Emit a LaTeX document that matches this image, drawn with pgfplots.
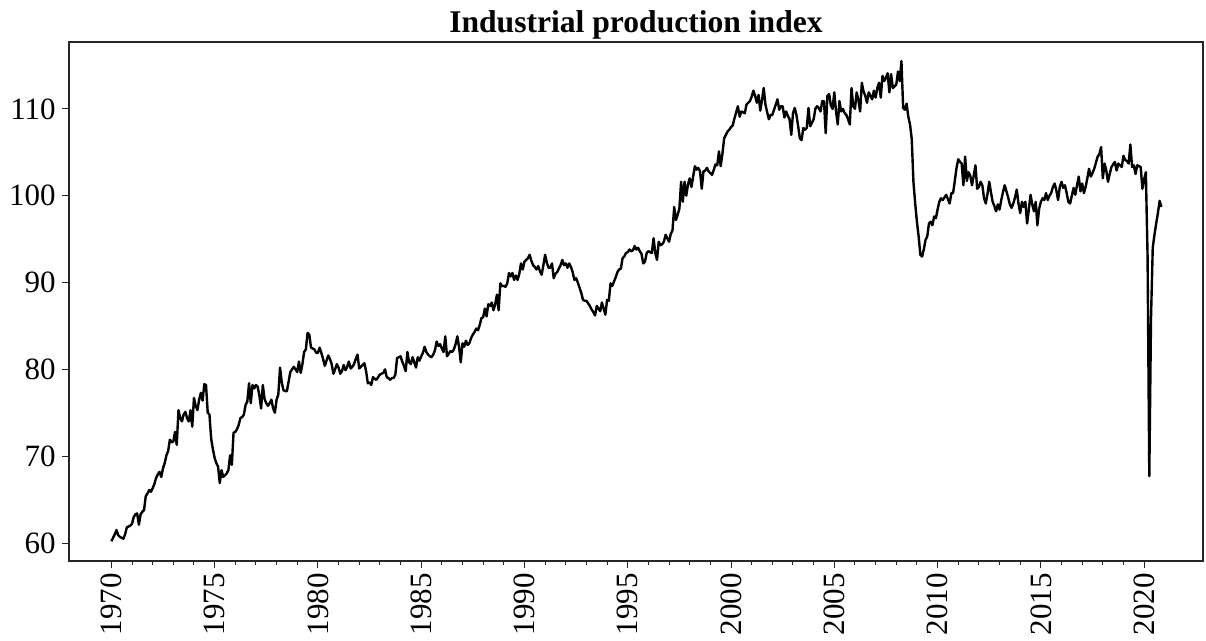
\documentclass[border=0pt]{standalone}
\usepackage{fontspec}
\setmainfont{Liberation Serif}
\usepackage{pgfplots}
\usepackage{pgfplotstable}
\pgfplotsset{compat=1.18}
\pgfplotstableread[row sep=\\]{
y\\
60.2\\ 60.6\\ 61.0\\ 61.5\\ 60.9\\ 60.7\\ 60.6\\ 60.5\\ 61.0\\ 61.8\\ 61.9\\ 62.0\\
62.2\\ 63.0\\ 63.3\\ 63.4\\ 62.1\\ 63.3\\ 63.6\\ 63.8\\ 65.4\\ 65.7\\ 66.1\\ 65.9\\
66.3\\ 66.8\\ 67.5\\ 67.9\\ 68.2\\ 67.6\\ 68.6\\ 69.2\\ 70.1\\ 70.6\\ 71.9\\ 71.6\\
71.7\\ 72.8\\ 71.3\\ 75.3\\ 74.4\\ 74.0\\ 74.8\\ 75.1\\ 74.4\\ 74.0\\ 75.3\\ 73.4\\
76.7\\ 75.8\\ 75.3\\ 76.5\\ 77.3\\ 76.4\\ 78.3\\ 78.2\\ 75.0\\ 74.8\\ 72.0\\ 70.8\\
69.8\\ 69.2\\ 68.8\\ 66.9\\ 68.4\\ 67.6\\ 67.8\\ 68.0\\ 68.4\\ 70.1\\ 69.0\\ 72.7\\
72.8\\ 73.1\\ 73.6\\ 74.4\\ 74.5\\ 74.8\\ 75.9\\ 76.3\\ 78.4\\ 76.1\\ 78.2\\ 77.8\\
78.2\\ 78.0\\ 77.0\\ 75.5\\ 78.2\\ 76.6\\ 76.1\\ 75.8\\ 76.1\\ 76.5\\ 75.5\\ 75.0\\
76.5\\ 77.1\\ 80.2\\ 78.5\\ 77.6\\ 77.5\\ 77.5\\ 78.6\\ 79.7\\ 80.0\\ 80.3\\ 80.0\\
79.7\\ 80.9\\ 79.6\\ 80.6\\ 82.0\\ 82.3\\ 84.2\\ 84.0\\ 82.5\\ 82.4\\ 82.3\\ 81.9\\
81.9\\ 82.5\\ 81.9\\ 81.2\\ 80.4\\ 81.0\\ 81.6\\ 81.2\\ 80.6\\ 79.5\\ 80.0\\ 80.6\\
80.2\\ 79.5\\ 79.8\\ 80.5\\ 79.9\\ 80.3\\ 80.9\\ 80.1\\ 80.3\\ 80.6\\ 81.2\\ 81.7\\
80.1\\ 80.3\\ 80.5\\ 80.7\\ 79.8\\ 78.4\\ 78.5\\ 78.2\\ 79.1\\ 78.9\\ 78.8\\ 79.1\\
79.4\\ 79.5\\ 79.6\\ 80.0\\ 79.1\\ 79.0\\ 78.8\\ 79.0\\ 79.0\\ 79.4\\ 81.3\\ 81.4\\
81.5\\ 80.9\\ 80.4\\ 79.8\\ 82.0\\ 80.8\\ 80.6\\ 81.4\\ 80.8\\ 80.2\\ 81.4\\ 81.0\\
81.5\\ 81.9\\ 82.6\\ 82.0\\ 81.7\\ 81.5\\ 81.4\\ 81.7\\ 82.2\\ 83.2\\ 82.7\\ 82.9\\
82.4\\ 82.0\\ 83.8\\ 81.5\\ 81.8\\ 82.1\\ 82.0\\ 82.3\\ 82.9\\ 83.8\\ 82.6\\ 80.8\\
83.0\\ 82.6\\ 83.3\\ 82.8\\ 83.0\\ 83.6\\ 84.0\\ 84.3\\ 84.7\\ 84.5\\ 85.1\\ 85.9\\
86.0\\ 87.0\\ 86.1\\ 87.5\\ 87.3\\ 87.7\\ 86.8\\ 87.5\\ 88.6\\ 86.8\\ 89.9\\ 89.6\\
89.6\\ 89.5\\ 89.9\\ 91.1\\ 90.7\\ 91.1\\ 90.3\\ 90.8\\ 90.3\\ 91.0\\ 92.2\\ 91.5\\
92.4\\ 92.6\\ 92.8\\ 93.2\\ 92.5\\ 92.0\\ 91.8\\ 91.5\\ 91.9\\ 91.3\\ 90.9\\ 92.0\\
93.2\\ 92.3\\ 91.7\\ 91.7\\ 92.2\\ 90.5\\ 91.0\\ 91.2\\ 91.6\\ 92.0\\ 92.6\\ 92.0\\
92.2\\ 91.7\\ 92.2\\ 91.8\\ 91.2\\ 90.3\\ 90.5\\ 90.0\\ 89.4\\ 88.8\\ 88.0\\ 87.9\\
87.9\\ 87.6\\ 87.3\\ 86.9\\ 86.6\\ 86.2\\ 87.3\\ 87.0\\ 86.7\\ 87.7\\ 87.0\\ 86.3\\
88.0\\ 87.9\\ 89.9\\ 89.6\\ 90.1\\ 90.6\\ 91.2\\ 91.5\\ 91.6\\ 92.8\\ 93.0\\ 93.4\\
93.5\\ 93.8\\ 93.6\\ 93.7\\ 94.2\\ 93.8\\ 94.0\\ 93.6\\ 93.3\\ 92.2\\ 92.4\\ 93.4\\
93.6\\ 93.5\\ 93.4\\ 95.1\\ 93.4\\ 92.6\\ 94.7\\ 94.3\\ 94.4\\ 94.7\\ 95.5\\ 95.1\\
94.7\\ 95.6\\ 96.0\\ 98.7\\ 97.2\\ 97.8\\ 98.5\\ 101.6\\ 99.3\\ 101.6\\ 100.0\\ 101.3\\
102.0\\ 101.0\\ 102.2\\ 103.4\\ 103.0\\ 103.2\\ 102.8\\ 100.8\\ 102.8\\ 102.9\\ 103.2\\ 102.8\\
102.6\\ 102.4\\ 103.0\\ 103.6\\ 103.5\\ 105.1\\ 103.4\\ 104.8\\ 106.6\\ 107.0\\ 107.4\\ 107.6\\
107.9\\ 108.1\\ 108.9\\ 109.6\\ 110.3\\ 109.1\\ 109.7\\ 109.6\\ 109.5\\ 110.5\\ 110.7\\ 110.9\\
111.4\\ 112.1\\ 111.5\\ 110.7\\ 111.6\\ 109.8\\ 111.0\\ 112.4\\ 110.5\\ 109.6\\ 108.8\\ 109.3\\
109.3\\ 109.9\\ 110.5\\ 111.1\\ 109.9\\ 110.3\\ 110.3\\ 109.0\\ 109.7\\ 109.2\\ 108.8\\ 107.0\\
109.5\\ 110.1\\ 109.3\\ 108.0\\ 106.6\\ 106.4\\ 107.8\\ 107.6\\ 107.8\\ 110.1\\ 108.0\\ 108.4\\
108.8\\ 110.0\\ 110.3\\ 110.1\\ 109.7\\ 110.9\\ 110.9\\ 107.2\\ 111.5\\ 111.7\\ 110.4\\ 110.0\\
111.9\\ 109.7\\ 108.2\\ 110.9\\ 109.7\\ 110.0\\ 109.5\\ 109.3\\ 108.8\\ 108.2\\ 112.4\\ 110.3\\
110.0\\ 111.9\\ 111.0\\ 109.7\\ 113.0\\ 112.0\\ 111.5\\ 110.7\\ 111.9\\ 111.5\\ 111.1\\ 112.1\\
111.3\\ 112.4\\ 113.0\\ 111.3\\ 113.8\\ 113.2\\ 113.6\\ 114.1\\ 111.9\\ 114.0\\ 112.4\\ 112.6\\
112.8\\ 114.3\\ 113.2\\ 115.5\\ 110.1\\ 109.9\\ 110.6\\ 109.1\\ 108.2\\ 106.5\\ 101.5\\ 99.1\\
97.0\\ 95.3\\ 93.2\\ 93.0\\ 93.8\\ 94.9\\ 95.3\\ 96.8\\ 97.0\\ 96.6\\ 97.6\\ 97.4\\
98.4\\ 99.3\\ 99.7\\ 99.5\\ 99.8\\ 100.1\\ 99.6\\ 99.1\\ 100.3\\ 100.3\\ 101.7\\ 103.2\\
104.2\\ 103.9\\ 103.7\\ 101.2\\ 104.5\\ 101.7\\ 102.7\\ 102.3\\ 101.2\\ 102.3\\ 103.5\\ 100.8\\
101.0\\ 101.6\\ 101.2\\ 99.7\\ 99.1\\ 100.2\\ 101.6\\ 100.4\\ 99.3\\ 98.8\\ 98.2\\ 99.0\\
98.4\\ 99.5\\ 100.4\\ 101.2\\ 100.5\\ 99.8\\ 99.0\\ 98.6\\ 99.1\\ 99.8\\ 100.7\\ 99.1\\
98.0\\ 99.3\\ 98.7\\ 99.3\\ 96.8\\ 98.4\\ 100.1\\ 99.0\\ 98.2\\ 99.3\\ 96.6\\ 98.5\\
99.3\\ 99.7\\ 99.5\\ 100.3\\ 99.5\\ 100.0\\ 100.3\\ 101.0\\ 101.4\\ 100.6\\ 99.5\\ 101.0\\
101.6\\ 100.9\\ 101.2\\ 100.3\\ 99.3\\ 99.1\\ 100.0\\ 100.9\\ 100.1\\ 101.2\\ 102.2\\ 100.5\\
101.4\\ 100.3\\ 101.0\\ 102.0\\ 103.1\\ 102.2\\ 102.6\\ 103.1\\ 103.8\\ 104.5\\ 104.8\\ 105.6\\
102.0\\ 103.7\\ 102.9\\ 101.6\\ 102.5\\ 103.3\\ 103.6\\ 103.9\\ 102.9\\ 103.7\\ 103.5\\ 103.3\\
104.6\\ 104.1\\ 104.0\\ 103.7\\ 105.9\\ 103.3\\ 103.5\\ 102.5\\ 103.5\\ 103.4\\ 103.3\\ 100.8\\
101.9\\ 102.7\\ 93.0\\ 67.7\\ 86.0\\ 94.0\\ 95.5\\ 96.8\\ 98.0\\ 99.4\\ 98.7\\
}\ipdata
\begin{document}
\begin{tikzpicture}
\begin{axis}[
  at={(0,0)}, anchor=south west,
  scale only axis, width=567pt, height=259.5pt,
  xmin=1967.95, xmax=2022.85, ymin=57.93, ymax=117.7,
  xtick={1970,1975,...,2020}, ytick={60,70,...,110},
  minor x tick num=4,
  tick align=outside, tick pos=left,
  major tick length=3.5pt, minor tick length=2pt,
  every tick/.style={black!85, line width=0.5pt},
  axis line style={black!85, line width=0.6pt},
  /pgf/number format/assume math mode=true,
  /pgf/number format/1000 sep={},
  x tick label style={rotate=90, anchor=east, inner xsep=2.5pt, font=\fontsize{15.5}{16}\selectfont},
  y tick label style={inner xsep=3pt, font=\fontsize{15.5}{16}\selectfont},
  every axis title shift=0pt,
  title={Industrial production index},
  title style={font=\bfseries\fontsize{15.8}{16}\selectfont, at={(0.5,1)}, anchor=base, yshift=4.5pt},
]
\addplot[black, line width=1.2pt, line join=round] table[x expr={1970+\coordindex/12}, y=y] {\ipdata};
\end{axis}
\pgfresetboundingbox
\path[use as bounding box] (-34.5pt,-40pt) rectangle (568.5pt,280.5pt);
\end{tikzpicture}
\end{document}
